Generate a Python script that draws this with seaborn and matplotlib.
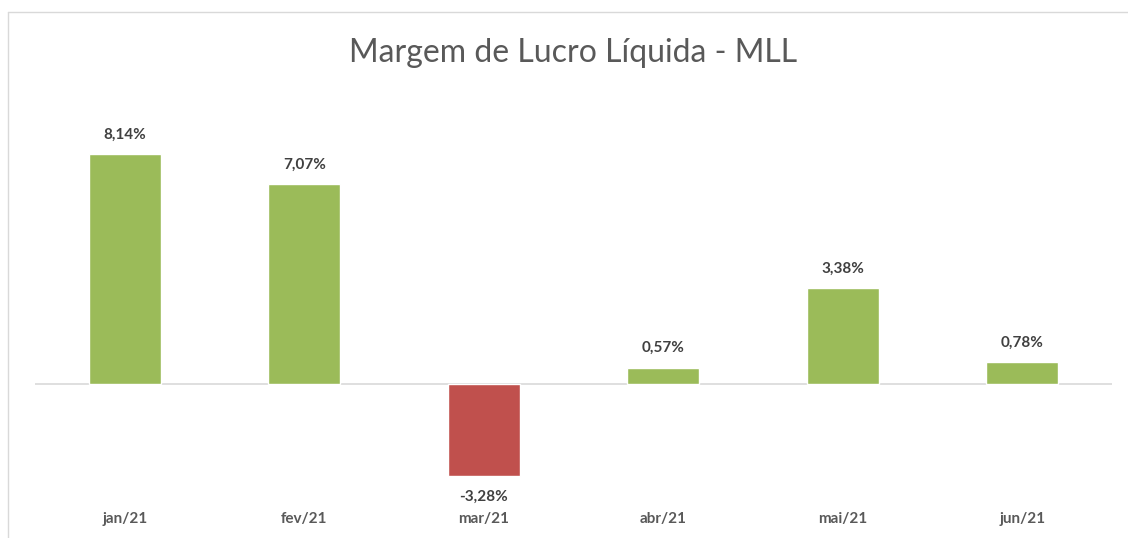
import pandas as pd
import numpy as np
import matplotlib
matplotlib.use("Agg")
import matplotlib.pyplot as plt
import seaborn as sns
from matplotlib.lines import Line2D

# data
meses = ["jan/21", "fev/21", "mar/21", "abr/21", "mai/21", "jun/21"]
mll = [8.14, 7.07, -3.28, 0.57, 3.38, 0.78]
rotulos = ["8,14%", "7,07%", "-3,28%", "0,57%", "3,38%", "0,78%"]

df = pd.DataFrame({"mes": meses, "mll": mll})
cores = ["#9BBB59" if v >= 0 else "#C0504D" for v in mll]

sns.set_style("white")
plt.rcParams["font.family"] = ["Lato", "DejaVu Sans"]

fig = plt.figure(figsize=(11.28, 5.38), dpi=100)
ax = fig.add_axes([35 / 1128, 1 - 498 / 538, (1112 - 35) / 1128, (498 - 130) / 538])

sns.barplot(data=df, x="mes", y="mll", hue="mes", palette=cores, legend=False,
            width=0.4, saturation=1, ax=ax)

ax.set_ylim(-4.05, 9)
ax.axhline(0, color="#d9d9d9", lw=1.2, zorder=0)

for i, (v, txt) in enumerate(zip(mll, rotulos)):
    if v >= 0:
        ax.annotate(txt, (i, v), xytext=(0, 9), textcoords="offset points",
                    ha="center", va="bottom", fontsize=11, fontweight="bold",
                    color="#404040")
    else:
        ax.annotate(txt, (i, v), xytext=(0, -10), textcoords="offset points",
                    ha="center", va="top", fontsize=11, fontweight="bold",
                    color="#404040")

ax.set_xlabel("")
ax.set_ylabel("")
ax.set_yticks([])
ax.tick_params(axis="x", length=0, pad=10, labelsize=11, labelcolor="#595959")
for lbl in ax.get_xticklabels():
    lbl.set_fontweight("bold")
sns.despine(ax=ax, left=True, bottom=True)

fig.text(573 / 1128, 1 - 53 / 538, "Margem de Lucro Líquida - MLL",
         ha="center", va="center", fontsize=23, color="#595959")

# chart border
fig.add_artist(Line2D([8 / 1128, 8 / 1128], [0, 1 - 12 / 538],
                      transform=fig.transFigure, color="#d9d9d9", lw=1))
fig.add_artist(Line2D([8 / 1128, 1], [1 - 12 / 538, 1 - 12 / 538],
                      transform=fig.transFigure, color="#d9d9d9", lw=1))

fig.savefig("out.png", dpi=100)
